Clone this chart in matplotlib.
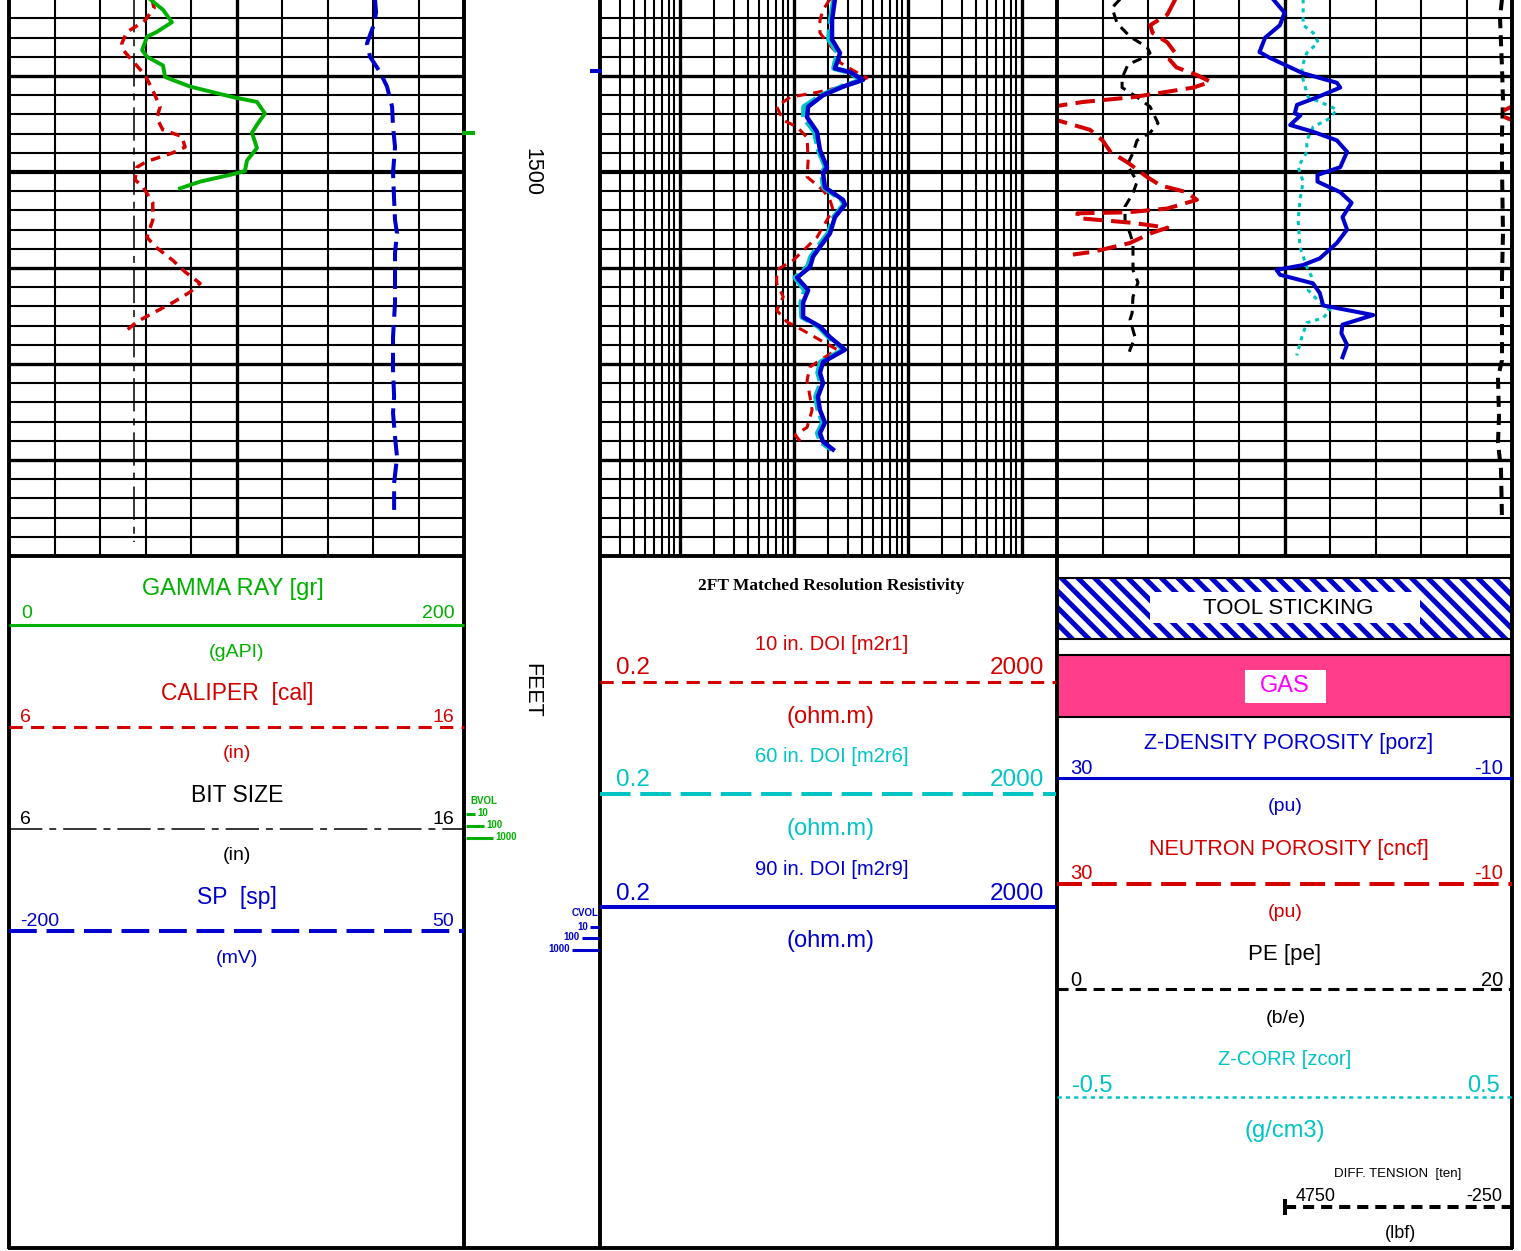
import matplotlib
matplotlib.use('Agg')
import matplotlib.pyplot as plt
from matplotlib.patches import Rectangle

# ---------------- data ----------------
gr_depth = [1482.0, 1483.1, 1484.4, 1485.4, 1485.9, 1487.3, 1488.0, 1488.9, 1490.1, 1491.1, 1492.2,
            1492.7, 1493.9, 1494.9, 1495.9, 1497.5, 1498.8, 1499.9, 1500.3, 1501.0, 1501.7]
gr = [62, 67.7, 71.6, 65, 60.7, 58.5, 60.7, 67.7, 68.6, 79.6, 98.5,
      109, 112.5, 109.5, 106.8, 109, 104.6, 103.7, 97.1, 84, 75.2]

cal_depth = [1482.0, 1482.9, 1484.2, 1484.9, 1485.4, 1486.6, 1487.3, 1488.5, 1489.9, 1491.5, 1493.2,
             1494.4, 1495.6, 1496.3, 1497.4, 1498.0, 1498.9, 1499.5, 1500.8, 1501.6, 1503.2, 1505.0,
             1506.8, 1507.9, 1509.2, 1510.4, 1511.6, 1512.5, 1513.6, 1514.7, 1515.6, 1516.8]
cal = [9.14, 9.19, 8.99, 8.77, 8.59, 8.48, 8.51, 8.73, 8.99, 9.16, 9.32,
       9.25, 9.38, 9.80, 9.87, 9.60, 9.03, 8.81, 8.77, 8.95, 9.16, 9.16,
       9.03, 9.25, 9.60, 9.87, 10.20, 9.98, 9.60, 9.16, 8.81, 8.51]

bit_depth = [1482.0, 1538.5]
bit = [8.75, 8.75]

sp_depth = [1482.0, 1483.4, 1484.9, 1486.6, 1488.0, 1489.6, 1491.1, 1493.2, 1495.3, 1497.4, 1500.1,
            1502.9, 1505.0, 1506.4, 1508.4, 1510.9, 1513.6, 1517.2, 1520.6, 1523.4, 1525.1, 1527.6,
            1529.7, 1532.4, 1535.2]
sp = [1.1, 1.7, 0.0, -3.3, -1.6, 3.9, 7.7, 10.5, 11.0, 12.1, 11.0,
      11.6, 12.1, 13.2, 12.1, 12.1, 12.1, 11.0, 11.0, 11.6, 11.0, 12.1,
      13.2, 11.6, 11.6]

res_depth = [1482.0, 1484.2, 1486.2, 1487.6, 1488.6, 1489.2, 1489.6, 1490.4, 1491.1, 1492.0, 1493.2,
             1494.3, 1495.8, 1497.7, 1499.5, 1500.1, 1501.6, 1502.9, 1503.4, 1504.7, 1506.4, 1507.8,
             1508.8, 1509.9, 1511.0, 1512.3, 1513.6, 1515.1, 1516.1, 1517.2, 1518.5, 1519.8, 1520.9,
             1522.0, 1523.4, 1524.8, 1526.1, 1527.2, 1528.1, 1528.9]
m2r9 = [23.0, 21.7, 21.7, 25.5, 24.0, 23.0, 31.2, 40.6, 27.1, 18.1, 13.4,
        13.1, 16.0, 17.0, 19.6, 18.1, 18.8, 27.1, 28.2, 23.0, 20.8, 17.0,
        14.8, 13.9, 10.7, 13.4, 12.1, 12.1, 17.0, 20.8, 28.2, 18.1, 17.0,
        18.1, 16.3, 17.0, 18.8, 17.0, 18.1, 22.1]
m2r6 = [22.5, 21.0, 20.3, 24.5, 23.0, 22.5, 30.5, 39.5, 26.5, 17.5, 12.3,
        12.2, 15.2, 16.5, 19.0, 17.6, 18.3, 26.5, 27.5, 22.5, 20.0, 16.3,
        14.2, 13.2, 10.3, 12.5, 11.6, 11.8, 16.5, 20.3, 27.5, 17.2, 16.3,
        17.3, 15.6, 16.4, 18.0, 16.2, 17.2, 21.5]

m2r1_depth = [1482.0, 1483.1, 1484.2, 1485.5, 1486.6, 1487.6, 1488.6, 1489.4, 1490.2, 1491.1, 1491.7,
              1492.2, 1493.2, 1494.6, 1495.3, 1496.4, 1498.7, 1500.5, 1501.9, 1502.9, 1503.9, 1505.0,
              1506.8, 1507.8, 1509.2, 1510.2, 1511.6, 1513.0, 1514.4, 1515.6, 1516.5, 1517.5, 1518.5,
              1519.4, 1520.3, 1521.7, 1523.4, 1524.8, 1526.6, 1527.4, 1528.4]
m2r1 = [20.8, 18.1, 17.0, 17.0, 20.0, 24.0, 25.5, 33.1, 44.0, 27.1, 16.0,
        9.3, 7.1, 8.1, 10.7, 13.1, 13.4, 13.1, 18.1, 20.8, 22.1, 19.6,
        16.0, 13.1, 9.9, 7.1, 7.1, 8.1, 7.1, 8.7, 12.1, 17.0, 24.0,
        18.1, 13.9, 13.1, 13.9, 14.5, 13.1, 10.3, 12.1]

porz_depth = [1482.0, 1483.4, 1484.7, 1486.0, 1487.5, 1488.1, 1489.7, 1490.7, 1491.2, 1492.2, 1493.0,
              1493.9, 1494.1, 1495.1, 1495.8, 1496.7, 1497.9, 1499.5, 1500.3, 1501.0, 1502.1, 1503.2,
              1504.7, 1506.0, 1507.4, 1509.0, 1509.7, 1510.2, 1510.7, 1511.6, 1512.6, 1513.9, 1514.9,
              1515.9, 1516.8, 1518.0, 1519.3]
porz = [11.0, 10.0, 10.4, 11.7, 12.2, 11.3, 8.4, 5.4, 5.1, 7.1, 8.9,
        9.1, 8.6, 9.5, 7.5, 5.4, 4.5, 5.1, 7.1, 7.1, 5.1, 4.1,
        4.9, 4.5, 5.4, 6.9, 8.4, 10.7, 10.4, 7.5, 6.9, 6.6, 2.2,
        4.9, 5.0, 4.5, 4.9]

cncf_depth = [1482.0, 1483.6, 1484.7, 1485.5, 1486.5, 1487.6, 1488.3, 1489.1, 1489.9, 1490.6, 1491.2,
              1492.2, 1492.7, 1493.1, 1493.4, 1493.7, 1494.2, 1494.6, 1495.6, 1496.7, 1497.9, 1499.0,
              1500.5, 1501.4, 1502.1, 1502.9, 1503.8, 1504.2, 1504.3, 1504.8, 1505.3, 1505.8, 1506.4,
              1507.4, 1508.3, 1508.6]
cncf = [19.6, 20.3, 21.8, 21.6, 20.3, 19.6, 20.1, 19.5, 17.7, 16.5, 18.0,
        23.3, 27.7, 29.9, 30.4, 30.9, 30.8, 30.0, 27.1, 26.0, 25.3, 23.8,
        22.1, 20.9, 18.6, 17.7, 20.3, 23.8, 28.2, 28.2, 23.3, 20.3, 21.8,
        23.6, 26.8, 28.6]

pe_depth = [1482.0, 1482.9, 1484.5, 1485.9, 1487.0, 1487.6, 1488.1, 1488.8, 1490.2, 1491.2, 1492.2,
            1493.2, 1494.9, 1495.9, 1496.7, 1498.0, 1499.3, 1500.1, 1501.0, 1502.2, 1503.6, 1505.0,
            1506.4, 1507.4, 1509.5, 1510.2, 1511.5, 1513.0, 1514.7, 1515.4, 1517.2, 1518.5, 1519.3]
pe = [2.77, 2.42, 2.64, 3.21, 3.96, 4.09, 3.78, 3.12, 2.86, 2.86, 3.52,
      4.09, 4.44, 4.09, 3.52, 3.34, 3.08, 3.30, 3.52, 3.34, 2.99, 2.99,
      3.21, 3.34, 3.34, 3.34, 3.56, 3.34, 3.30, 3.21, 3.43, 3.21, 3.12]

zcor_depth = [1482.0, 1484.7, 1485.5, 1486.5, 1487.6, 1489.1, 1490.4, 1492.2, 1493.0, 1493.5, 1494.4,
              1495.3, 1496.7, 1497.9, 1499.5, 1501.0, 1502.9, 1505.0, 1507.8, 1509.9, 1511.2, 1512.3,
              1513.6, 1514.4, 1515.2, 1515.7, 1517.2, 1519.1]
zcor = [0.041, 0.041, 0.063, 0.074, 0.049, 0.038, 0.041, 0.052, 0.093, 0.115, 0.100,
        0.063, 0.049, 0.049, 0.030, 0.041, 0.034, 0.030, 0.034, 0.049, 0.063, 0.052,
        0.078, 0.100, 0.085, 0.049, 0.038, 0.027]

ten_depth = [1482.0, 1483.9, 1489.1, 1492.5, 1495.9, 1499.5, 1506.4, 1510.9, 1519.6, 1521.4, 1525.5,
             1528.2, 1531.0, 1536.2]
ten = [-140, -118, -140, -151, -140, -140, -151, -140, -140, -96, -107, -96, -129, -140]

depth_label = '1500'

# ---------------- styling ----------------
W, H = 1521, 1251
plt.rcParams['font.family'] = ['Liberation Sans', 'DejaVu Sans']
plt.rcParams['lines.scale_dashes'] = False
plt.rcParams['hatch.linewidth'] = 3.6

GREEN = '#00b000'
RED = '#d40000'
BLUE = '#0000cc'
CYAN = '#00c4c4'
MAG = '#ff00ff'

TOP, BOT = 1482.08, 1540.0
LOG_BOTTOM = 556
T1 = (9, 464)
T2 = (600, 1056)
T3 = (1057, 1512)

fig = plt.figure(figsize=(W / 100, H / 100), dpi=100)


def rect(x0, x1, y0, y1):
    return [x0 / W, 1 - y1 / H, (x1 - x0) / W, (y1 - y0) / H]


def track_axes(tr, xlim, log=False):
    ax = fig.add_axes(rect(tr[0], tr[1], 0, LOG_BOTTOM))
    if log:
        ax.set_xscale('log')
    ax.set_xlim(*xlim)
    ax.set_ylim(BOT, TOP)
    ax.axis('off')
    ax.patch.set_visible(False)
    return ax


def depth_grid(ax):
    d = 1484
    while d < 1540:
        if d == 1500:
            lw = 3.0
        elif d % 10 == 0:
            lw = 2.4
        else:
            lw = 1.5
        ax.axhline(d, color='black', lw=lw, zorder=0)
        d += 2


# Track 1 grid (linear, 10 divisions)
g1 = track_axes(T1, (0, 10))
depth_grid(g1)
for i in range(1, 10):
    g1.axvline(i, color='black', lw=2.4 if i == 5 else 1.5, zorder=0)

# Track 2 grid (log 0.2 - 2000)
g2 = track_axes(T2, (0.2, 2000), log=True)
depth_grid(g2)
for dec in [0.1, 1, 10, 100, 1000]:
    for m in range(1, 10):
        v = dec * m
        if 0.2 < v < 2000:
            g2.axvline(v, color='black', lw=2.4 if m == 1 else 1.5, zorder=0)

# Track 3 grid
g3 = track_axes(T3, (0, 10))
depth_grid(g3)
for i in range(1, 10):
    g3.axvline(i, color='black', lw=2.4 if i == 5 else 1.5, zorder=0)

# ---- Track 1 curves ----
a = track_axes(T1, (6, 16))
a.plot(bit, bit_depth, color='black', lw=1.1, dashes=(24, 5, 5, 5))
a = track_axes(T1, (-200, 50))
a.plot(sp, sp_depth, color=BLUE, lw=2.9, dashes=(14, 6))
a = track_axes(T1, (6, 16))
a.plot(cal, cal_depth, color=RED, lw=2.5, dashes=(7, 5))
a = track_axes(T1, (0, 200))
a.plot(gr, gr_depth, color=GREEN, lw=2.8)

# ---- Track 2 curves ----
a = track_axes(T2, (0.2, 2000), log=True)
a.plot(m2r1, m2r1_depth, color=RED, lw=2.2, dashes=(7, 5))
a.plot(m2r6, res_depth, color=CYAN, lw=3.8, dashes=(18, 4))
a.plot(m2r9, res_depth, color=BLUE, lw=3.2)

# ---- Track 3 curves ----
a = track_axes(T3, (4750, -250))
a.plot(ten, ten_depth, color='black', lw=2.9, dashes=(8, 5))
a = track_axes(T3, (0, 20))
a.plot(pe, pe_depth, color='black', lw=2.2, dashes=(7, 5))
a = track_axes(T3, (-0.5, 0.5))
a.plot(zcor, zcor_depth, color=CYAN, lw=2.2, dashes=(3, 3.5))
a = track_axes(T3, (30, -10))
a.plot(cncf, cncf_depth, color=RED, lw=2.9, dashes=(14, 6))
a.plot([v - 40 for v in cncf], cncf_depth, color=RED, lw=2.9, dashes=(14, 6))
a = track_axes(T3, (30, -10))
a.plot(porz, porz_depth, color=BLUE, lw=2.9)

# ---------------- overlay: borders & header ----------------
ov = fig.add_axes([0, 0, 1, 1])
ov.set_xlim(0, W)
ov.set_ylim(H, 0)
ov.axis('off')
ov.patch.set_visible(False)


def seg(x0, y0, x1, y1, color='black', lw=2.6, **kw):
    ov.plot([x0, x1], [y0, y1], color=color, lw=lw, solid_capstyle='butt', **kw)


def txt(x, y, s, color='black', size=14, ha='center', **kw):
    ov.text(x, y + 1.5, s, color=color, fontsize=size, ha=ha, va='center', **kw)


# frame
for x in [9, 464, 600, 1056.5, 1512]:
    seg(x, 0, x, 1249, lw=2.8)
seg(9, LOG_BOTTOM, 464, LOG_BOTTOM, lw=2.8)
seg(600, LOG_BOTTOM, 1512, LOG_BOTTOM, lw=2.8)
seg(8, 1248, 1513, 1248, lw=2.8)

# depth track
txt(532, 171, depth_label, size=15.5, rotation=270)
txt(532, 689, 'FEET', size=15.5, rotation=270)
seg(462, 133, 475, 133, color=GREEN, lw=2.9)
seg(590, 71, 602, 71, color=BLUE, lw=2.9)
# BVOL legend
txt(470, 799, 'BVOL', color=GREEN, size=7, ha='left', fontweight='bold')
for y, x1, lab in [(814, 475, '10'), (826, 484, '100'), (838, 493, '1000')]:
    seg(466, y, x1, y, color=GREEN, lw=2.2)
    txt(x1 + 2, y - 2, lab, color=GREEN, size=7, ha='left', fontweight='bold')
# CVOL legend
txt(598, 911, 'CVOL', color=BLUE, size=7, ha='right', fontweight='bold')
for y, x0, lab in [(927, 590, '10'), (938, 582, '100'), (950, 572, '1000')]:
    seg(x0, y, 599, y, color=BLUE, lw=2.2)
    txt(x0 - 2, y - 2, lab, color=BLUE, size=7, ha='right', fontweight='bold')

# ---- Track 1 header ----
txt(233, 588, 'GAMMA RAY [gr]', GREEN, 17)
txt(21, 612, '0', GREEN, 14, ha='left')
txt(455, 612, '200', GREEN, 14, ha='right')
seg(9, 625, 464, 625, color=GREEN, lw=2.2)
txt(237, 651, '(gAPI)', GREEN, 14)

txt(237, 692, 'CALIPER  [cal]', RED, 16.5)
txt(20, 716, '6', RED, 14, ha='left')
txt(454, 716, '16', RED, 14, ha='right')
seg(9, 727, 464, 727, color=RED, lw=2.2, dashes=(9.5, 6))
txt(237, 752, '(in)', RED, 14)

txt(237, 794, 'BIT SIZE', 'black', 16.5)
txt(20, 818, '6', 'black', 14, ha='left')
txt(454, 818, '16', 'black', 14, ha='right')
seg(9, 829, 464, 829, color='black', lw=1.1, dashes=(24, 5, 5, 5))
txt(237, 854, '(in)', 'black', 14)

txt(237, 896, 'SP  [sp]', BLUE, 16.5)
txt(20, 920, '-200', BLUE, 14, ha='left')
txt(454, 920, '50', BLUE, 14, ha='right')
seg(9, 931, 464, 931, color=BLUE, lw=2.9, dashes=(20, 7))
txt(237, 957, '(mV)', BLUE, 14)

# ---- Track 2 header ----
txt(831, 584, '2FT Matched Resolution Resistivity', 'black', 12.5,
    family=['Liberation Serif', 'DejaVu Serif'], fontweight='bold')
for ytop, color, lab, ls in [(643, RED, '10 in. DOI [m2r1]', dict(lw=2.2, dashes=(9.5, 6))),
                             (755, CYAN, '60 in. DOI [m2r6]', dict(lw=2.9, dashes=(22, 7))),
                             (868, BLUE, '90 in. DOI [m2r9]', dict(lw=2.9))]:
    txt(832, ytop, lab, color, 14.5)
    txt(616, ytop + 24, '0.2', color, 17.5, ha='left')
    txt(1044, ytop + 24, '2000', color, 17.5, ha='right')
    seg(600, ytop + 39, 1056, ytop + 39, color=color, **ls)
    txt(830, ytop + 72, '(ohm.m)', color, 17)

# ---- Track 3 header ----
ov.add_patch(Rectangle((1057, 578), 455, 61, facecolor='white', edgecolor=BLUE,
                       hatch='\\\\', lw=0))
ov.add_patch(Rectangle((1057, 578), 455, 61, fill=False, edgecolor='black', lw=1.5))
ov.add_patch(Rectangle((1150, 592), 270, 31, facecolor='white', edgecolor='none'))
txt(1288, 607, 'TOOL STICKING', 'black', 16)

ov.add_patch(Rectangle((1057, 655), 455, 62, facecolor='#ff3d8a', edgecolor='black', lw=1.5))
ov.add_patch(Rectangle((1245, 670), 81, 33, facecolor='white', edgecolor='none'))
txt(1285, 685, 'GAS', MAG, 17)

txt(1289, 742, 'Z-DENSITY POROSITY [porz]', BLUE, 15.5)
txt(1070, 767, '30', BLUE, 14.5, ha='left')
txt(1503, 767, '-10', BLUE, 14.5, ha='right')
seg(1057, 778, 1512, 778, color=BLUE, lw=2.2)
txt(1285, 805, '(pu)', BLUE, 14)

txt(1289, 848, 'NEUTRON POROSITY [cncf]', RED, 15.5)
txt(1070, 872, '30', RED, 14.5, ha='left')
txt(1503, 872, '-10', RED, 14.5, ha='right')
seg(1057, 884, 1512, 884, color=RED, lw=2.9, dashes=(18, 7))
txt(1285, 911, '(pu)', RED, 14)

txt(1285, 953, 'PE [pe]', 'black', 16)
txt(1070, 979, '0', 'black', 14.5, ha='left')
txt(1503, 979, '20', 'black', 14.5, ha='right')
seg(1057, 989, 1512, 989, color='black', lw=2.2, dashes=(8, 5))
txt(1286, 1017, '(b/e)', 'black', 14)

txt(1285, 1058, 'Z-CORR [zcor]', CYAN, 14.5)
txt(1072, 1084, '-0.5', CYAN, 17, ha='left')
txt(1500, 1084, '0.5', CYAN, 17, ha='right')
seg(1057, 1097, 1512, 1097, color=CYAN, lw=1.8, dashes=(3, 3))
txt(1285, 1130, '(g/cm3)', CYAN, 17)

txt(1398, 1172, 'DIFF. TENSION  [ten]', 'black', 9.5)
txt(1296, 1195, '4750', 'black', 13, ha='left')
txt(1502, 1195, '-250', 'black', 13, ha='right')
seg(1285, 1207, 1512, 1207, color='black', lw=2.9, dashes=(8, 5))
seg(1285, 1199, 1285, 1215, color='black', lw=2.9)
txt(1400, 1232, '(lbf)', 'black', 13)

fig.savefig('out.png', dpi=100)
